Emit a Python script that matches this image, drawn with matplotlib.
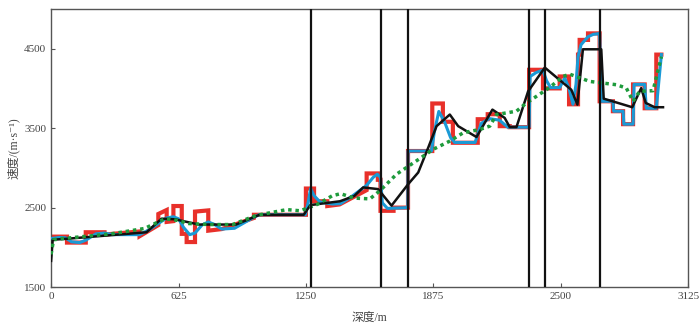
import numpy as np
import matplotlib
matplotlib.use('Agg')
import matplotlib.pyplot as plt

plt.rcParams['font.family'] = ['Liberation Serif', 'Noto Sans CJK SC', 'DejaVu Sans']

# measured step log (red)
red_x = [0, 78, 78, 170, 170, 262, 262, 300, 434, 434, 526, 526, 567, 567, 600, 600, 641, 641,
         665, 665, 706, 706, 771, 771, 837, 995, 995, 1250, 1250, 1290, 1290, 1355, 1355, 1415,
         1548, 1548, 1603, 1603, 1616, 1616, 1680, 1680, 1751, 1751, 1870, 1870, 1922, 1922, 1971,
         1971, 2093, 2093, 2142, 2142, 2201, 2201, 2250, 2250, 2345, 2345, 2413, 2413, 2495, 2495,
         2541, 2541, 2585, 2585, 2593, 2593, 2634, 2634, 2691, 2691, 2756, 2756, 2806, 2806, 2855,
         2855, 2912, 2912, 2969, 2969, 2994]
red_v = [2135, 2135, 2060, 2060, 2190, 2190, 2160, 2170, 2200, 2140, 2280, 2420, 2470, 2320, 2330,
         2520, 2520, 2170, 2170, 2067, 2067, 2450, 2465, 2210, 2230, 2370, 2410, 2410, 2740, 2740,
         2580, 2580, 2520, 2540, 2720, 2930, 2930, 2850, 2850, 2460, 2460, 2500, 2500, 3212, 3212,
         3810, 3810, 3580, 3580, 3316, 3316, 3612, 3612, 3675, 3675, 3525, 3525, 3512, 3512, 4234,
         4234, 4000, 4000, 4150, 4150, 3800, 3800, 4425, 4425, 4610, 4610, 4692, 4692, 3838, 3838,
         3713, 3713, 3550, 3550, 4050, 4050, 3750, 3750, 4425, 4425]

# smoothed log (blue)
blue_x = [0, 40, 70, 100, 140, 170, 220, 262, 300, 434, 480, 526, 567, 600, 625, 650, 680, 706,
          740, 771, 800, 837, 900, 995, 1020, 1247, 1260, 1273, 1290, 1320, 1380, 1420, 1480,
          1548, 1580, 1600, 1616, 1625, 1650, 1750, 1751, 1866, 1880, 1902, 1930, 1960, 1980,
          2080, 2110, 2150, 2200, 2240, 2345, 2350, 2380, 2413, 2430, 2450, 2495, 2520, 2541,
          2560, 2575, 2585, 2600, 2634, 2660, 2691, 2700, 2756, 2760, 2806, 2810, 2855, 2860,
          2912, 2920, 2969, 2994]
blue_v = [2110, 2125, 2120, 2070, 2060, 2090, 2170, 2180, 2160, 2160, 2220, 2300, 2370, 2385,
          2360, 2250, 2160, 2180, 2280, 2320, 2290, 2230, 2240, 2380, 2410, 2410, 2550, 2740,
          2650, 2570, 2545, 2550, 2650, 2780, 2880, 2920, 2880, 2560, 2490, 2500, 3212, 3212,
          3450, 3710, 3580, 3380, 3320, 3320, 3560, 3620, 3600, 3512, 3512, 4150, 4200, 4230,
          4100, 4010, 4010, 4130, 4000, 3800, 4050, 4400, 4550, 4650, 4680, 4690, 3838, 3838,
          3713, 3713, 3550, 3550, 4050, 4050, 3750, 3750, 4425]

# inversion result (black)
black_x = [0, 8, 78, 468, 542, 608, 725, 907, 1023, 1239, 1272, 1417, 1487, 1531, 1604, 1670,
           1752, 1801, 1850, 1891, 1956, 1997, 2087, 2165, 2225, 2250, 2283, 2340, 2422, 2552,
           2582, 2609, 2699, 2711, 2851, 2895, 2917, 2961, 3002]
black_v = [1830, 2096, 2108, 2190, 2361, 2353, 2287, 2287, 2410, 2410, 2532, 2580, 2646, 2754,
           2733, 2525, 2796, 2942, 3254, 3525, 3671, 3525, 3388, 3733, 3629, 3513, 3513, 3962,
           4262, 3983, 3796, 4492, 4492, 3871, 3763, 4004, 3817, 3763, 3763]

# low-frequency trend (green)
green_x = [0, 12, 78, 293, 459, 559, 617, 675, 774, 890, 1006, 1156, 1222, 1305, 1380, 1420,
           1487, 1564, 1613, 1695, 1792, 1874, 1956, 2022, 2103, 2152, 2185, 2283, 2332, 2381,
           2446, 2511, 2544, 2642, 2773, 2822, 2855, 2887, 2953, 2994]
green_v = [1912, 2096, 2116, 2169, 2238, 2361, 2340, 2300, 2287, 2287, 2402, 2475, 2460, 2540,
           2650, 2675, 2620, 2610, 2712, 2921, 3088, 3233, 3337, 3442, 3483, 3525, 3671, 3713,
           3817, 3900, 4012, 4150, 4179, 4088, 4046, 4004, 3838, 3963, 3971, 4400]

# well boundaries
vlines = [1273, 1616, 1751, 2345, 2422, 2691]

xticks = [0, 625, 1250, 1875, 2500, 3125]
yticks = [1500, 2500, 3500, 4500]

fig = plt.figure(figsize=(7, 3.3), dpi=100)
ax = fig.add_axes([0.073, 0.13, 0.91, 0.843])

ax.plot(red_x, red_v, color='#e8302a', lw=3.0, solid_joinstyle='miter', zorder=2)
ax.plot(blue_x, blue_v, color='#1a9ad6', lw=2.2, zorder=3)
ax.plot(black_x, black_v, color='#111111', lw=1.8, zorder=4)
ax.plot(green_x, green_v, color='#1e9b3c', lw=2.5, linestyle=(0, (1, 1.1)), zorder=5)
for xv in vlines:
    ax.axvline(xv, color='#111111', lw=1.6, zorder=6)

ax.set_xlim(0, 3125)
ax.set_ylim(1500, 5000)
ax.set_xticks(xticks)
ax.set_yticks(yticks)
ax.tick_params(direction='in', length=3, labelsize=8, colors='#555555', labelcolor='#444444')
for s in ax.spines.values():
    s.set_color('#555555')
    s.set_linewidth(1)

ax.set_xlabel('深度/m', fontsize=8.5, color='#444444', labelpad=8)
ax.set_ylabel('速度/(m·s⁻¹)', fontsize=8.5, color='#444444', labelpad=3)

fig.savefig('out.png', dpi=100)
